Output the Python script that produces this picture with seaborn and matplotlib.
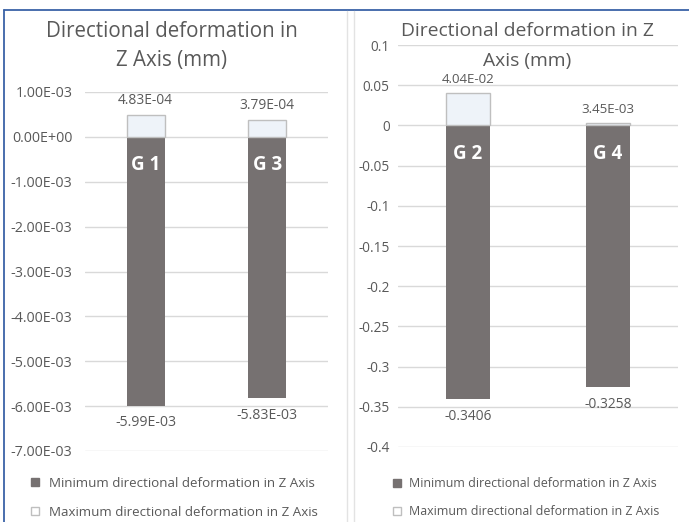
import numpy as np
import pandas as pd
import matplotlib
matplotlib.use("Agg")
import matplotlib.pyplot as plt
import seaborn as sns
from matplotlib.lines import Line2D
from matplotlib.ticker import FuncFormatter

# data
groups_left = ["G 1", "G 3"]
min_left = [-5.99e-03, -5.83e-03]
max_left = [4.83e-04, 3.79e-04]
min_left_txt = ["-5.99E-03", "-5.83E-03"]
max_left_txt = ["4.83E-04", "3.79E-04"]
ticks_left = [1e-3, 0, -1e-3, -2e-3, -3e-3, -4e-3, -5e-3, -6e-3, -7e-3]

groups_right = ["G 2", "G 4"]
min_right = [-0.3406, -0.3258]
max_right = [4.04e-02, 3.45e-03]
min_right_txt = ["-0.3406", "-0.3258"]
max_right_txt = ["4.04E-02", "3.45E-03"]
ticks_right = [0.1, 0.05, 0, -0.05, -0.1, -0.15, -0.2, -0.25, -0.3, -0.35, -0.4]

legend_labels = ["Minimum directional deformation in Z Axis",
                 "Maximum directional deformation in Z Axis"]

DARK = "#767171"
LIGHT = "#EEF3F9"
EDGE = "#BFBFBF"
TXT = "#595959"
GRID = "#D9D9D9"

sns.set_theme(style="white")
plt.rcParams['font.family'] = ['Open Sans', 'DejaVu Sans']

W, H = 689, 522
fig = plt.figure(figsize=(W / 100, H / 100), dpi=100)


def px_box(x0, x1, y0, y1):
    # pixel box -> figure fraction rect
    return [x0 / W, 1 - y1 / H, (x1 - x0) / W, (y1 - y0) / H]


def draw_panel(ax, groups, mins, maxs, min_txt, max_txt, ticks, fmt, tickpad, tickfs, labfs):
    df = pd.DataFrame({"group": groups, "min": mins, "max": maxs})
    sns.barplot(data=df, x="group", y="min", color=DARK, saturation=1,
                width=0.31, linewidth=0, ax=ax, zorder=3)
    sns.barplot(data=df, x="group", y="max", color=LIGHT, saturation=1,
                width=0.31, edgecolor=EDGE, linewidth=1, ax=ax, zorder=3)
    ax.set_xlim(-0.5, 1.5)
    ax.set_ylim(min(ticks), max(ticks))
    ax.set_yticks(ticks)
    ax.yaxis.set_major_formatter(FuncFormatter(fmt))
    ax.tick_params(axis="y", length=0, pad=tickpad, labelsize=tickfs, labelcolor=TXT)
    ax.set_xticks([])
    ax.set_xlabel("")
    ax.set_ylabel("")
    for s in ax.spines.values():
        s.set_visible(False)
    ax.grid(axis="y", color=GRID, linewidth=1)
    ax.set_axisbelow(True)
    ax.patch.set_alpha(0)

    for i, g in enumerate(groups):
        ax.annotate(max_txt[i], (i, maxs[i]), xytext=(0, 5), textcoords="offset points",
                    ha="center", va="bottom", fontsize=labfs, color=TXT)
        ax.annotate(min_txt[i], (i, mins[i]), xytext=(0, -7), textcoords="offset points",
                    ha="center", va="top", fontsize=labfs + 0.3, color=TXT)
        ax.annotate(g, (i, 0), xytext=(0, -20.5), textcoords="offset points",
                    ha="center", va="center", fontsize=13.5, fontweight="bold",
                    color="white", zorder=5)


def fmt_sci(v, pos):
    return "%.2E" % v


def fmt_plain(v, pos):
    return "%g" % round(v, 4)


ax1 = fig.add_axes(px_box(85, 328, 92, 451))
draw_panel(ax1, groups_left, min_left, max_left, min_left_txt, max_left_txt,
           ticks_left, fmt_sci, 9, 10.3, 9.9)

ax2 = fig.add_axes(px_box(398, 678, 45, 447))
draw_panel(ax2, groups_right, min_right, max_right, min_right_txt, max_right_txt,
           ticks_right, fmt_plain, 6, 9.8, 9.6)

# titles
fig.text(172 / W, 1 - 46 / H, "Directional deformation in\nZ Axis (mm)",
         ha="center", va="center", fontsize=14.8, color=TXT, linespacing=1.5)
fig.text(527 / W, 1 - 46 / H, "Directional deformation in Z\nAxis (mm)",
         ha="center", va="center", fontsize=13.9, color=TXT, linespacing=1.8)

# legends
handles = [Line2D([], [], marker="s", linestyle="none", markersize=6,
                  markerfacecolor=DARK, markeredgecolor=DARK),
           Line2D([], [], marker="s", linestyle="none", markersize=6,
                  markerfacecolor="white", markeredgecolor=EDGE)]
for x0, fs in [(30, 9.6), (392, 8.9)]:
    leg = fig.legend(handles, legend_labels, loc="upper left",
                     bbox_to_anchor=(x0 / W, 1 - 477 / H), frameon=False,
                     fontsize=fs, handlelength=0.8, handletextpad=0.6,
                     labelspacing=1.2, borderaxespad=0, borderpad=0)
    for t in leg.get_texts():
        t.set_color(TXT)

# panel borders
fig.add_artist(Line2D([4 / W, 1], [1 - 10 / H, 1 - 10 / H], color="#3A62A7", linewidth=1.3))
fig.add_artist(Line2D([4 / W, 4 / W], [0, 1 - 10 / H], color="#3A62A7", linewidth=1.3))
fig.add_artist(Line2D([347 / W, 347 / W], [0, 1 - 11 / H], color="#E3E3E3", linewidth=1))
fig.add_artist(Line2D([354 / W, 354 / W], [0, 1 - 11 / H], color="#E3E3E3", linewidth=1))

fig.savefig("out.png", dpi=100)
